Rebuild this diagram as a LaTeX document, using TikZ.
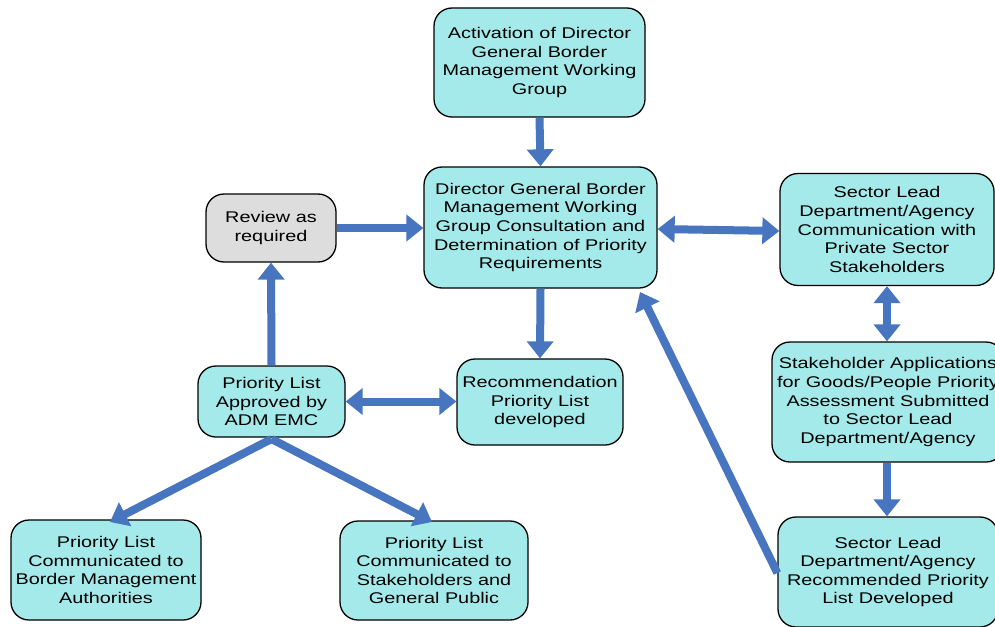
\documentclass[tikz,border=0pt]{standalone}
\usepackage{fontspec}
\setmainfont{Liberation Sans}[FakeStretch=1.28]
\usetikzlibrary{arrows.meta}
\definecolor{boxcyan}{RGB}{165,234,234}
\definecolor{boxgray}{RGB}{221,221,221}
\definecolor{arrblue}{RGB}{71,117,192}
\tikzset{
  box/.style={draw=black, line width=1.3pt, rounded corners=18pt, fill=boxcyan, align=center,
    font=\fontsize{15.5}{18.6}\selectfont, inner sep=0pt},
  arr/.style={line width=8pt, draw=arrblue, -{Triangle[width=26pt,length=17pt]}},
  darr/.style={line width=8pt, draw=arrblue, {Triangle[width=26pt,length=17pt]}-{Triangle[width=26pt,length=17pt]}}
}
\begin{document}
\begin{tikzpicture}[x=1pt,y=-1pt]
\useasboundingbox (0,0) rectangle (995,626);
\clip (0,0) rectangle (995,626);
\fill[white] (0,0) rectangle (995,626);
\node[box, minimum width=211pt, minimum height=109pt] (act) at (539.5,62.5) {Activation of Director\\General Border\\Management Working\\Group};
\node[box, minimum width=233pt, minimum height=121pt] (dg) at (540.5,227.5) {Director General Border\\Management Working\\Group Consultation and\\Determination of Priority\\Requirements};
\node[box, fill=boxgray, minimum width=130pt, minimum height=68pt] (rev) at (271,228) {Review as\\required};
\node[box, minimum width=214pt, minimum height=112pt] (slc) at (887,229.5) {Sector Lead\\Department/Agency\\Communication with\\Private Sector\\Stakeholders};
\node[box, minimum width=232pt, minimum height=120pt] (sha) at (888,402) {Stakeholder Applications\\for Goods/People Priority\\Assessment Submitted\\to Sector Lead\\Department/Agency};
\node[box, minimum width=220pt, minimum height=110pt] (slr) at (888,572) {Sector Lead\\Department/Agency\\Recommended Priority\\List Developed};
\node[box, minimum width=147pt, minimum height=71pt] (pla) at (271.5,401.5) {Priority List\\Approved by\\ADM EMC};
\node[box, minimum width=166pt, minimum height=86pt] (rec) at (540,402) {Recommendation\\Priority List\\developed};
\node[box, minimum width=190pt, minimum height=100pt] (plb) at (106,570) {Priority List\\Communicated to\\Border Management\\Authorities};
\node[box, minimum width=188pt, minimum height=99pt] (pls) at (434,570.5) {Priority List\\Communicated to\\Stakeholders and\\General Public};
\coordinate (dgtip) at (640,292);
\coordinate (plab) at (271.5,439);
\draw[arr] (act.south) -- (dg.north);
\draw[arr] (rev.east) -- (dg.west |- rev.east);
\draw[darr] (dg.east |- 0,229) -- (slc.west |- 0,231);
\draw[darr] (slc.south -| 887,0) -- (sha.north -| 887,0);
\draw[arr] (sha.south -| 887,0) -- (slr.north -| 887,0);
\draw[arr] (slr.west |- 0,573) -- (dgtip);
\draw[arr] (dg.south) -- (rec.north);
\draw[darr] (pla.east) -- (rec.west |- pla.east);
\draw[arr] (pla.north) -- (rev.south);
\draw[arr] (plab) -- (110,522);
\draw[arr] (plab) -- (432,522);
\end{tikzpicture}
\end{document}
